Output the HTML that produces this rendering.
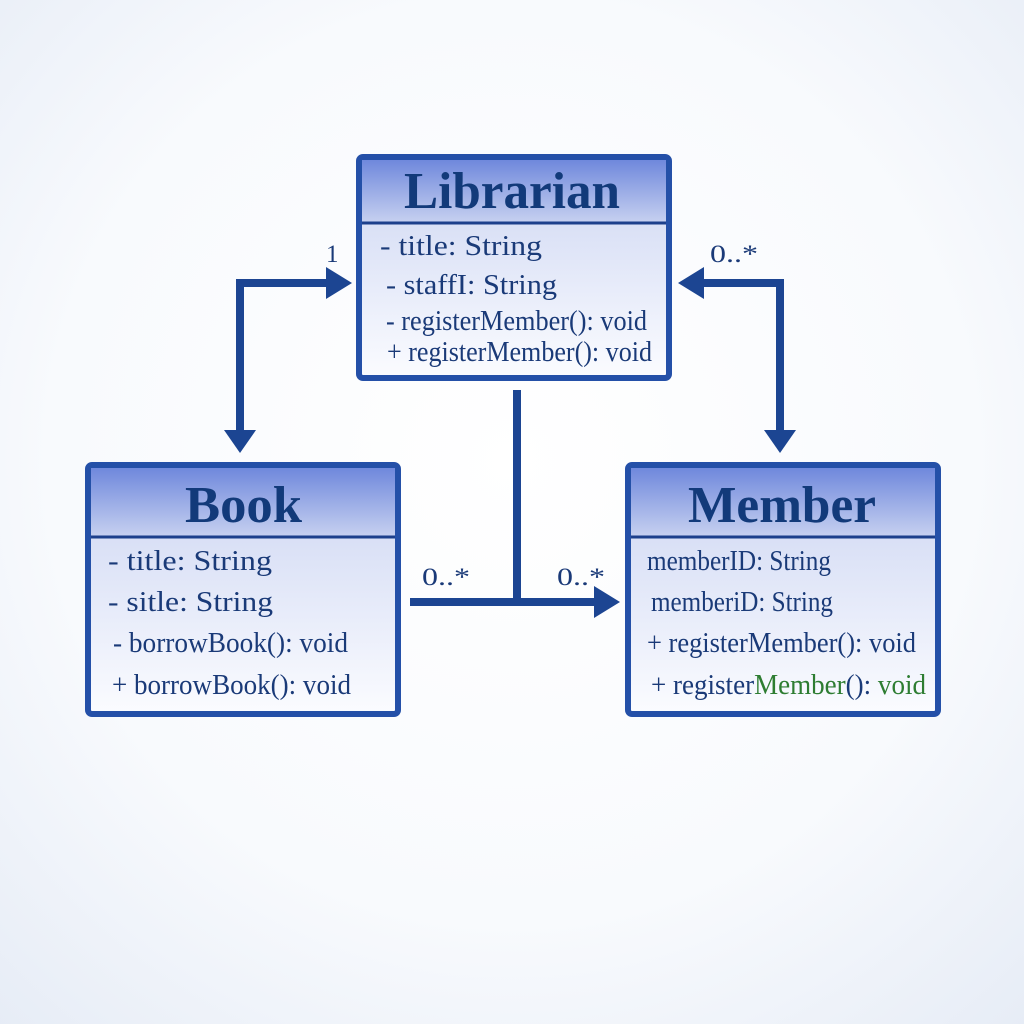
<!DOCTYPE html>
<html><head><meta charset="utf-8"><style>
html,body{margin:0;padding:0;width:1024px;height:1024px;overflow:hidden;background:#fff}
svg{display:block}
.t{font-family:"Liberation Serif",serif;font-weight:bold;fill:#123a7a;font-size:52px}
.r{font-family:"Liberation Serif",serif;fill:#1a3a78;font-size:29px}
.l{font-family:"Liberation Serif",serif;fill:#1a3a78;font-size:25px}
</style></head><body>
<svg width="1024" height="1024" viewBox="0 0 1024 1024">
<defs>
<radialGradient id="bg" cx="50%" cy="45%" r="75%">
<stop offset="0" stop-color="#ffffff"/><stop offset="0.6" stop-color="#f8fafd"/><stop offset="1" stop-color="#e6ecf6"/>
</radialGradient>
<linearGradient id="hd" x1="0" y1="0" x2="0" y2="1">
<stop offset="0" stop-color="#6f88dc"/><stop offset="1" stop-color="#c6d0f0"/>
</linearGradient>
<linearGradient id="bd" x1="0" y1="0" x2="0" y2="1">
<stop offset="0" stop-color="#cbd4f2"/><stop offset="1" stop-color="#fbfcff"/>
</linearGradient>
</defs>
<rect width="1024" height="1024" fill="url(#bg)"/>

<!-- Librarian -->
<rect x="359" y="157" width="310" height="221" rx="4" fill="url(#bd)" stroke="#2450a8" stroke-width="6"/>
<rect x="362" y="160" width="304" height="62" fill="url(#hd)"/>
<line x1="362" y1="223" x2="666" y2="223" stroke="#1c3f8c" stroke-width="3"/>
<text class="t" x="404" y="208" textLength="216" lengthAdjust="spacingAndGlyphs">Librarian</text>
<text class="r" x="380" y="255" textLength="162" lengthAdjust="spacingAndGlyphs">- title: String</text>
<text class="r" x="386" y="294" textLength="171" lengthAdjust="spacingAndGlyphs">- staffI: String</text>
<text class="r" x="386" y="330" textLength="261" lengthAdjust="spacingAndGlyphs">- registerMember(): void</text>
<text class="r" x="387" y="361" textLength="265" lengthAdjust="spacingAndGlyphs">+ registerMember(): void</text>

<!-- Book -->
<rect x="88" y="465" width="310" height="249" rx="4" fill="url(#bd)" stroke="#2450a8" stroke-width="6"/>
<rect x="91" y="468" width="304" height="68" fill="url(#hd)"/>
<line x1="91" y1="537" x2="395" y2="537" stroke="#1c3f8c" stroke-width="3"/>
<text class="t" x="185" y="522" textLength="117" lengthAdjust="spacingAndGlyphs">Book</text>
<text class="r" x="108" y="570" textLength="164" lengthAdjust="spacingAndGlyphs">- title: String</text>
<text class="r" x="108" y="611" textLength="165" lengthAdjust="spacingAndGlyphs">- sitle: String</text>
<text class="r" x="113" y="652" textLength="235" lengthAdjust="spacingAndGlyphs">- borrowBook(): void</text>
<text class="r" x="112" y="694" textLength="239" lengthAdjust="spacingAndGlyphs">+ borrowBook(): void</text>

<!-- Member -->
<rect x="628" y="465" width="310" height="249" rx="4" fill="url(#bd)" stroke="#2450a8" stroke-width="6"/>
<rect x="631" y="468" width="304" height="68" fill="url(#hd)"/>
<line x1="631" y1="537" x2="935" y2="537" stroke="#1c3f8c" stroke-width="3"/>
<text class="t" x="688" y="522" textLength="188" lengthAdjust="spacingAndGlyphs">Member</text>
<text class="r" x="647" y="570" textLength="184" lengthAdjust="spacingAndGlyphs">memberID: String</text>
<text class="r" x="651" y="611" textLength="182" lengthAdjust="spacingAndGlyphs">memberiD: String</text>
<text class="r" x="647" y="652" textLength="269" lengthAdjust="spacingAndGlyphs">+ registerMember(): void</text>
<text class="r" x="651" y="694" textLength="275" lengthAdjust="spacingAndGlyphs">+ register<tspan fill="#2e7d32">Member</tspan>(): <tspan fill="#2e7d32">void</tspan></text>

<!-- connectors -->
<g stroke="#1c4592" stroke-width="8" fill="none" stroke-linejoin="miter">
<polyline points="240,430 240,283 330,283"/>
<polyline points="700,283 780,283 780,430"/>
<line x1="517" y1="390" x2="517" y2="602"/>
<line x1="410" y1="602" x2="596" y2="602"/>
</g>
<g fill="#1c4592">
<polygon points="326,267 352,283 326,299"/>
<polygon points="224,430 256,430 240,453"/>
<polygon points="704,267 678,283 704,299"/>
<polygon points="764,430 796,430 780,453"/>
<polygon points="594,586 620,602 594,618"/>
</g>
<text class="l" x="326" y="262">1</text>
<text class="l" x="710" y="262" textLength="48" lengthAdjust="spacingAndGlyphs">0..*</text>
<text class="l" x="422" y="585" textLength="48" lengthAdjust="spacingAndGlyphs">0..*</text>
<text class="l" x="557" y="585" textLength="48" lengthAdjust="spacingAndGlyphs">0..*</text>
</svg>
</body></html>
